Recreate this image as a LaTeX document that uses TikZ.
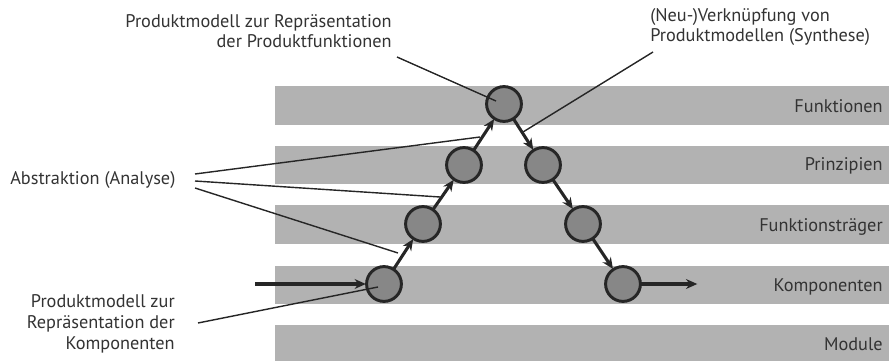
\documentclass[tikz,border=0pt]{standalone}
\usepackage{fontspec}
\setmainfont{PT Sans}
\usetikzlibrary{arrows.meta,positioning}
\colorlet{background}{white}
\colorlet{bandColor}{black!30}
\colorlet{knotColor}{black!47}
\colorlet{penColor}{black!85}
\colorlet{textColor}{black!80}

\tikzset{
  band/.style={fill=bandColor,draw=none},
  knot/.style={circle,draw=penColor,fill=knotColor,line width=2.1pt,
    minimum size=0.87cm,inner sep=0pt,outer sep=0pt},
  flow/.style={penColor,line width=2.2pt,-{Stealth[length=8pt,width=7pt]},shorten >=0.5pt},
  callout/.style={penColor,line width=1pt},
  lbl/.style={textColor,inner sep=0pt,font=\fontsize{13}{14.6}\selectfont},
}

\begin{document}
\begin{tikzpicture}[x=0.025cm,y=-0.025cm]
\useasboundingbox (0,0) rectangle (889,361);

% levels
\fill[band] (275,86) rectangle (889,125);
\fill[band] (275,146) rectangle (889,184);
\fill[band] (275,205) rectangle (889,244);
\fill[band] (275,266) rectangle (889,304);
\fill[band] (275,325) rectangle (889,362);
\node[lbl,anchor=base east] (lfkt) at (883,112) {Funktionen};
\node[lbl,anchor=base east] (lprz) at (883,171) {Prinzipien};
\node[lbl,anchor=base east] (ltrg) at (883,231) {Funktionsträger};
\node[lbl,anchor=base east] (lkmp) at (883,291) {Komponenten};
\node[lbl,anchor=base east] (lmod) at (883,350) {Module};

% the V of product models
\node[knot] (k1) at (384,284) {};
\node[knot] (k2) at (423,224) {};
\node[knot] (k3) at (464,165) {};
\node[knot] (k4) at (504,104) {};
\node[knot] (k5) at (543,165) {};
\node[knot] (k6) at (583,224) {};
\node[knot] (k7) at (623,284) {};
\coordinate (in) at (255,284);
\coordinate (out) at (698,284);
\draw[flow] (in) -- (k1);
\foreach \a/\b in {k1/k2,k2/k3,k3/k4,k4/k5,k5/k6,k6/k7}
  \draw[flow] (\a) -- (\b);
\draw[flow] (k7) -- (out);

% explanations (base = last line)
\node[lbl,align=right,anchor=base east] (tfkt) at (392,48)
  {Produktmodell zur Repräsentation\\der Produktfunktionen};
\node[lbl,align=left,anchor=base west] (tsyn) at (650,42)
  {(Neu-)Verknüpfung von\\Produktmodellen (Synthese)};
\node[lbl,anchor=base west] (tana) at (10,185) {Abstraktion (Analyse)};
\node[lbl,align=right,anchor=base east] (tkmp) at (175,349)
  {Produktmodell zur\\Repräsentation der\\Komponenten};

\coordinate (cfkt) at (397,57);
\coordinate (csyn) at (653,52);
\coordinate (ca1) at (195,174);
\coordinate (ca2) at (195,181);
\coordinate (ca3) at (195,188);
\coordinate (ckmp) at (198,323);
\draw[callout] (cfkt) -- (496,101);
\draw[callout] (csyn) -- (523,132);
\draw[callout] (ca1) -- (480,137);
\draw[callout] (ca2) -- (440,197);
\draw[callout] (ca3) -- (398,253);
\draw[callout] (ckmp) -- (378,287);
\end{tikzpicture}
\end{document}
